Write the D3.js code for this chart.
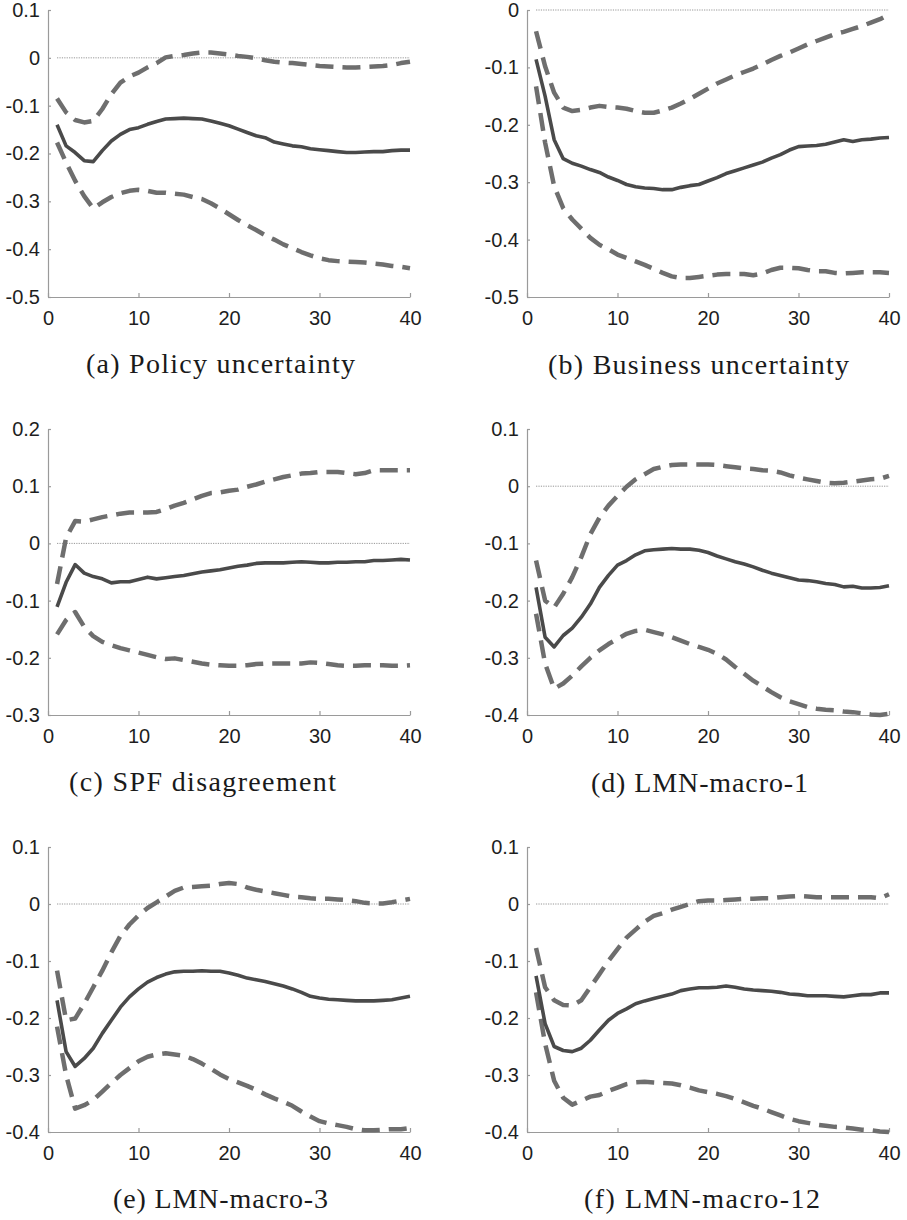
<!DOCTYPE html>
<html><head><meta charset="utf-8">
<script src="https://cdn.jsdelivr.net/npm/d3@7"></script>
<style>body{margin:0;background:#fff}svg{display:block}</style>
</head><body>
<svg id="chart" width="907" height="1220"></svg>
<script>
// ---------------- data ----------------
const horizons = [1,2,3,4,5,6,7,8,9,10,11,12,13,14,15,16,17,18,19,20,21,22,23,24,25,26,27,28,29,30,31,32,33,34,35,36,37,38,39,40];
const xTickValues = [0,10,20,30,40];
const panelTitles = ["(a) Policy uncertainty","(b) Business uncertainty","(c) SPF disagreement","(d) LMN-macro-1","(e) LMN-macro-3","(f) LMN-macro-12"];
const yDomains = [[-0.5,0.1],[-0.5,0],[-0.3,0.2],[-0.4,0.1],[-0.4,0.1],[-0.4,0.1]];

const policyIRF = [-0.14,-0.184,-0.198,-0.215,-0.217,-0.194,-0.174,-0.16,-0.15,-0.146,-0.139,-0.133,-0.128,-0.127,-0.126,-0.127,-0.128,-0.132,-0.137,-0.142,-0.149,-0.156,-0.163,-0.167,-0.176,-0.18,-0.184,-0.186,-0.19,-0.192,-0.194,-0.196,-0.198,-0.198,-0.197,-0.196,-0.196,-0.194,-0.193,-0.193];
const policyUpper = [-0.085,-0.114,-0.13,-0.135,-0.132,-0.107,-0.076,-0.052,-0.039,-0.031,-0.02,-0.011,0.001,0.004,0.006,0.009,0.011,0.011,0.009,0.007,0.004,0.002,-0.001,-0.005,-0.008,-0.01,-0.011,-0.013,-0.015,-0.017,-0.018,-0.019,-0.02,-0.02,-0.019,-0.018,-0.017,-0.015,-0.011,-0.008];
const policyLower = [-0.177,-0.219,-0.257,-0.289,-0.315,-0.302,-0.291,-0.283,-0.278,-0.276,-0.278,-0.282,-0.282,-0.284,-0.286,-0.291,-0.295,-0.304,-0.315,-0.327,-0.339,-0.35,-0.36,-0.371,-0.38,-0.39,-0.398,-0.406,-0.413,-0.419,-0.423,-0.425,-0.426,-0.427,-0.428,-0.43,-0.432,-0.435,-0.437,-0.44];

const businessIRF = [-0.086,-0.15,-0.226,-0.259,-0.267,-0.272,-0.278,-0.283,-0.291,-0.297,-0.304,-0.308,-0.31,-0.311,-0.313,-0.313,-0.309,-0.306,-0.304,-0.298,-0.292,-0.285,-0.28,-0.275,-0.27,-0.265,-0.258,-0.252,-0.244,-0.238,-0.237,-0.236,-0.234,-0.23,-0.226,-0.229,-0.226,-0.225,-0.223,-0.222];
const businessUpper = [-0.037,-0.098,-0.144,-0.17,-0.176,-0.174,-0.17,-0.167,-0.169,-0.17,-0.172,-0.176,-0.179,-0.179,-0.175,-0.17,-0.163,-0.155,-0.146,-0.137,-0.128,-0.121,-0.114,-0.108,-0.102,-0.095,-0.087,-0.08,-0.074,-0.067,-0.06,-0.054,-0.048,-0.042,-0.038,-0.033,-0.028,-0.022,-0.016,-0.008];
const businessLower = [-0.133,-0.231,-0.307,-0.345,-0.365,-0.381,-0.397,-0.409,-0.417,-0.426,-0.432,-0.438,-0.444,-0.451,-0.458,-0.464,-0.467,-0.467,-0.465,-0.463,-0.461,-0.46,-0.46,-0.46,-0.462,-0.459,-0.453,-0.449,-0.449,-0.45,-0.453,-0.455,-0.455,-0.458,-0.459,-0.458,-0.457,-0.457,-0.457,-0.458];

const spfIRF = [-0.111,-0.068,-0.037,-0.052,-0.058,-0.062,-0.069,-0.067,-0.067,-0.063,-0.059,-0.062,-0.06,-0.058,-0.056,-0.053,-0.05,-0.048,-0.046,-0.043,-0.04,-0.038,-0.035,-0.034,-0.034,-0.034,-0.033,-0.032,-0.033,-0.034,-0.034,-0.033,-0.033,-0.032,-0.032,-0.03,-0.03,-0.029,-0.028,-0.029];
const spfUpper = [-0.071,0.01,0.039,0.038,0.042,0.046,0.049,0.052,0.054,0.054,0.054,0.055,0.06,0.066,0.071,0.077,0.083,0.088,0.089,0.092,0.094,0.099,0.103,0.108,0.112,0.116,0.119,0.122,0.123,0.125,0.125,0.125,0.123,0.121,0.123,0.128,0.128,0.128,0.128,0.128];
const spfLower = [-0.159,-0.134,-0.12,-0.146,-0.162,-0.172,-0.178,-0.183,-0.187,-0.191,-0.195,-0.199,-0.202,-0.201,-0.204,-0.207,-0.21,-0.212,-0.213,-0.214,-0.214,-0.213,-0.211,-0.21,-0.21,-0.21,-0.21,-0.21,-0.208,-0.209,-0.211,-0.213,-0.214,-0.214,-0.213,-0.213,-0.213,-0.214,-0.214,-0.213];

const macro1IRF = [-0.177,-0.264,-0.281,-0.261,-0.248,-0.229,-0.206,-0.177,-0.156,-0.138,-0.13,-0.12,-0.113,-0.111,-0.11,-0.109,-0.11,-0.11,-0.112,-0.116,-0.122,-0.127,-0.132,-0.136,-0.141,-0.147,-0.152,-0.156,-0.16,-0.164,-0.165,-0.167,-0.17,-0.172,-0.176,-0.175,-0.178,-0.178,-0.177,-0.174];
const macro1Upper = [-0.13,-0.2,-0.212,-0.188,-0.159,-0.124,-0.084,-0.055,-0.034,-0.017,-0.001,0.012,0.021,0.03,0.034,0.037,0.038,0.038,0.038,0.038,0.037,0.035,0.033,0.031,0.03,0.028,0.027,0.024,0.019,0.015,0.012,0.009,0.006,0.005,0.006,0.008,0.01,0.012,0.013,0.018];
const macro1Lower = [-0.223,-0.31,-0.354,-0.345,-0.331,-0.315,-0.3,-0.287,-0.276,-0.267,-0.258,-0.253,-0.251,-0.255,-0.259,-0.264,-0.27,-0.276,-0.281,-0.286,-0.293,-0.303,-0.316,-0.328,-0.34,-0.35,-0.36,-0.369,-0.376,-0.381,-0.386,-0.389,-0.391,-0.392,-0.394,-0.395,-0.397,-0.399,-0.4,-0.398];

const macro3IRF = [-0.169,-0.259,-0.285,-0.271,-0.253,-0.227,-0.204,-0.181,-0.163,-0.149,-0.137,-0.129,-0.123,-0.119,-0.118,-0.118,-0.117,-0.118,-0.118,-0.121,-0.125,-0.13,-0.133,-0.136,-0.14,-0.144,-0.149,-0.155,-0.162,-0.165,-0.167,-0.168,-0.169,-0.17,-0.17,-0.17,-0.169,-0.168,-0.165,-0.162];
const macro3Upper = [-0.117,-0.204,-0.201,-0.175,-0.146,-0.117,-0.085,-0.056,-0.036,-0.02,-0.007,0.003,0.013,0.023,0.029,0.03,0.031,0.032,0.035,0.037,0.035,0.029,0.025,0.022,0.019,0.016,0.013,0.012,0.01,0.009,0.009,0.008,0.007,0.005,0.002,0.001,0.001,0.003,0.006,0.009];
const macro3Lower = [-0.215,-0.3,-0.359,-0.353,-0.344,-0.329,-0.314,-0.3,-0.288,-0.276,-0.268,-0.264,-0.262,-0.264,-0.266,-0.272,-0.28,-0.289,-0.299,-0.307,-0.313,-0.319,-0.326,-0.334,-0.341,-0.347,-0.354,-0.364,-0.373,-0.381,-0.385,-0.388,-0.391,-0.395,-0.397,-0.397,-0.396,-0.395,-0.395,-0.393];

const macro12IRF = [-0.126,-0.21,-0.25,-0.257,-0.259,-0.253,-0.239,-0.221,-0.204,-0.192,-0.184,-0.175,-0.17,-0.166,-0.162,-0.158,-0.152,-0.149,-0.147,-0.147,-0.146,-0.144,-0.146,-0.149,-0.151,-0.152,-0.153,-0.155,-0.158,-0.159,-0.161,-0.161,-0.161,-0.162,-0.163,-0.161,-0.159,-0.159,-0.156,-0.156];
const macro12Upper = [-0.077,-0.146,-0.169,-0.177,-0.178,-0.169,-0.146,-0.123,-0.1,-0.079,-0.059,-0.045,-0.031,-0.021,-0.016,-0.01,-0.005,0,0.005,0.006,0.006,0.007,0.008,0.009,0.009,0.01,0.01,0.012,0.013,0.014,0.013,0.012,0.012,0.012,0.012,0.012,0.012,0.012,0.01,0.017];
const macro12Lower = [-0.155,-0.245,-0.31,-0.34,-0.352,-0.345,-0.338,-0.335,-0.328,-0.322,-0.316,-0.313,-0.312,-0.313,-0.314,-0.315,-0.318,-0.322,-0.327,-0.33,-0.333,-0.337,-0.342,-0.348,-0.354,-0.359,-0.365,-0.371,-0.377,-0.381,-0.384,-0.387,-0.389,-0.391,-0.392,-0.394,-0.396,-0.397,-0.399,-0.4];

const panels = [
  {title: panelTitles[0], yDomain: yDomains[0], irf: policyIRF,   upper: policyUpper,   lower: policyLower},
  {title: panelTitles[1], yDomain: yDomains[1], irf: businessIRF, upper: businessUpper, lower: businessLower},
  {title: panelTitles[2], yDomain: yDomains[2], irf: spfIRF,      upper: spfUpper,      lower: spfLower},
  {title: panelTitles[3], yDomain: yDomains[3], irf: macro1IRF,   upper: macro1Upper,   lower: macro1Lower},
  {title: panelTitles[4], yDomain: yDomains[4], irf: macro3IRF,   upper: macro3Upper,   lower: macro3Lower},
  {title: panelTitles[5], yDomain: yDomains[5], irf: macro12IRF,  upper: macro12Upper,  lower: macro12Lower}
];

// ---------------- layout ----------------
const colX = [[48,410],[527,889]];
const rowY = [[10,297],[429,715],[847,1132]];
const capPos = [[220.5,373,269],[698.5,374,301],[202.5,791,267],[699.5,792,217],[220.5,1208,215],[702,1208,236]];

const svg = d3.select("#chart");
const fmt = d => String(+d.toFixed(1));

panels.forEach((p, i) => {
  const col = i % 2, row = Math.floor(i / 2);
  const x = d3.scaleLinear().domain([0, 40]).range(colX[col]);
  const y = d3.scaleLinear().domain(p.yDomain).range([rowY[row][1], rowY[row][0]]);
  const g = svg.append("g");

  // axes
  const ga = g.append("g").attr("transform", `translate(${colX[col][0]},0)`)
    .call(d3.axisLeft(y).ticks(6).tickFormat(fmt).tickSizeInner(-3).tickSizeOuter(0).tickPadding(8));
  const gb = g.append("g").attr("transform", `translate(0,${rowY[row][1]})`)
    .call(d3.axisBottom(x).tickValues(xTickValues).tickFormat(d => String(d)).tickSizeInner(-4).tickSizeOuter(0).tickPadding(14));
  [ga, gb].forEach(a => {
    a.selectAll(".domain").attr("stroke", "#9a9a9a").attr("stroke-width", 1.2);
    a.selectAll(".tick line").attr("stroke", "#9a9a9a").attr("stroke-width", 1.2);
    a.selectAll("text").attr("fill", "#1e1e1e").attr("font-family", "'Liberation Sans', Arial, sans-serif").attr("font-size", 20);
  });

  // zero reference line
  g.append("line")
    .attr("x1", x(horizons[0])).attr("x2", x(horizons[horizons.length - 1]))
    .attr("y1", y(0)).attr("y2", y(0))
    .attr("stroke", "#8a8a8a").attr("stroke-width", 0.9).attr("stroke-dasharray", "1.2,1.2");

  const line = d3.line().x(d => x(d[0])).y(d => y(d[1]));
  const zipS = arr => horizons.map((h, k) => [h, arr[k]]);

  [p.upper, p.lower].forEach(band => {
    g.append("path").datum(zipS(band)).attr("d", line)
      .attr("fill", "none").attr("stroke", "#6e6e6e").attr("stroke-width", 4.5)
      .attr("stroke-dasharray", "18,9").attr("stroke-linejoin", "round");
  });
  g.append("path").datum(zipS(p.irf)).attr("d", line)
    .attr("fill", "none").attr("stroke", "#4a4a4a").attr("stroke-width", 3.6)
    .attr("stroke-linejoin", "round");

  // caption
  svg.append("text")
    .attr("x", capPos[i][0]).attr("y", capPos[i][1])
    .attr("text-anchor", "middle")
    .attr("font-family", "'Liberation Serif', 'Times New Roman', serif")
    .attr("font-size", 28).attr("fill", "#1a1a1a")
    .attr("textLength", capPos[i][2]).attr("lengthAdjust", "spacing")
    .text(p.title);
});
</script>
</body></html>
